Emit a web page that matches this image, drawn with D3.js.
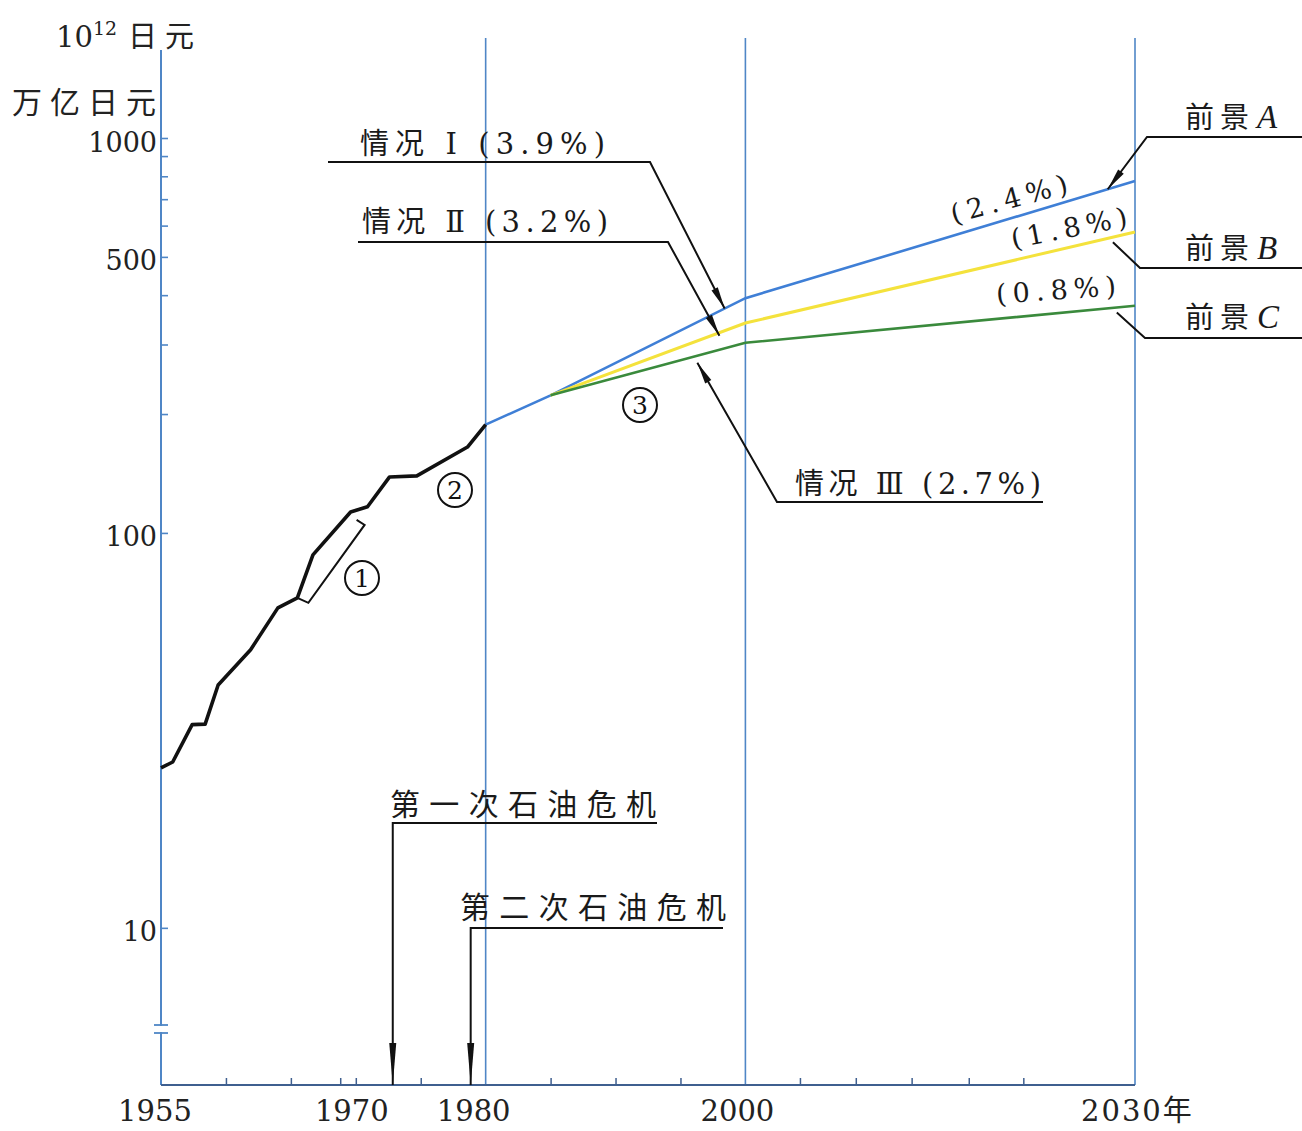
<!DOCTYPE html>
<html><head><meta charset="utf-8">
<script src="https://cdn.jsdelivr.net/npm/d3@7"></script>
<style>
html,body{margin:0;padding:0;background:#fff;}
svg{display:block;}
</style></head>
<body>
<svg id="chart" width="1302" height="1131"></svg>
<script>
// ---------- data ----------
const histYears  = [1955, 1955.9, 1957.4, 1958.4, 1959.4, 1961.9, 1964.0, 1965.5, 1966.7, 1969.6, 1970.9, 1972.6, 1974.7, 1978.6, 1980];
const histValues = [25.4, 26.3, 32.7, 32.8, 41.2, 50.6, 64.6, 68.5, 88, 113, 116.5, 138.6, 139.5, 165, 188];

const caseAYears  = [1980, 1985, 2000, 2030];
const caseAValues = [188, 223, 393, 778];   // 情况Ⅰ 3.9% -> 前景A 2.4%
const caseBYears  = [1985, 2000, 2030];
const caseBValues = [223, 340, 578];        // 情况Ⅱ 3.2% -> 前景B 1.8%
const caseCYears  = [1985, 2000, 2030];
const caseCValues = [223, 303, 376];        // 情况Ⅲ 2.7% -> 前景C 0.8%

const refYears = [1980, 2000, 2030];
const xLabelYears = [1955, 1970, 1980, 2000, 2030];
const xLabelTexts = ["1955", "1970", "1980", "2000", "2030年"];
const xMinorTicks = [1960, 1965, 1968.8, 1970, 1975, 1985, 1990, 1995, 2004.2, 2008.5, 2012.8, 2017.2, 2021.4];
const yTicks = [1000, 900, 800, 700, 600, 500, 400, 300, 200, 100, 10];
const yLabelTicks = [1000, 500, 100, 10];
const oilCrisisYears = [1973, 1979];
const oilCrisisTexts = ["第一次石油危机", "第二次石油危机"];

// ---------- setup ----------
const svg = d3.select("#chart");
const SERIF = "'DejaVu Serif', 'Liberation Serif', serif";
const CJK = "'Noto Sans CJK SC', 'Noto Sans', sans-serif";
const MIX = "'DejaVu Serif', 'Noto Sans CJK SC', serif";
const AXIS_BLUE = "#4f86c6";
const BASE_COL = "#3f5f8f";

const x = d3.scaleLinear().domain([1955, 2030]).range([161, 1135]);
const y = d3.scaleLog().domain([4, 1000]).range([1085, 138]);
const yBottom = y(4);

svg.append("rect").attr("width", 1302).attr("height", 1131).attr("fill", "#fff");

// vertical reference lines
svg.selectAll(".vref").data(refYears).join("line")
  .attr("x1", d => x(d)).attr("x2", d => x(d))
  .attr("y1", 38).attr("y2", yBottom)
  .attr("stroke", AXIS_BLUE).attr("stroke-width", 1.6);

// y axis
const yAxis = d3.axisRight(y).tickValues(yTicks).tickSize(7).tickFormat("");
const gy = svg.append("g").attr("transform", `translate(${x(1955)},0)`).call(yAxis);
gy.select(".domain").remove();
gy.selectAll(".tick line").attr("stroke", AXIS_BLUE).attr("stroke-width", 1.6);
svg.append("line").attr("x1", x(1955)).attr("x2", x(1955)).attr("y1", 50).attr("y2", yBottom)
  .attr("stroke", AXIS_BLUE).attr("stroke-width", 2);
svg.selectAll(".ylab").data(yLabelTicks).join("text")
  .attr("x", 157).attr("y", d => y(d)).attr("dy", "0.5em")
  .attr("text-anchor", "end").attr("font-family", SERIF).attr("font-size", 27)
  .attr("fill", "#222").text(d => d);

// axis break marks
svg.append("rect").attr("x", 154).attr("y", 1026).attr("width", 14).attr("height", 6).attr("fill", "#fff");
[1025, 1033].forEach(v => svg.append("line").attr("x1", 154).attr("x2", 168)
  .attr("y1", v).attr("y2", v).attr("stroke", AXIS_BLUE).attr("stroke-width", 1.8));

// x axis
const xAxis = d3.axisTop(x).tickValues(xMinorTicks).tickSize(7).tickFormat("");
const gx = svg.append("g").attr("transform", `translate(0,${yBottom})`).call(xAxis);
gx.select(".domain").remove();
gx.selectAll(".tick line").attr("stroke", BASE_COL).attr("stroke-width", 1.5);
svg.append("line").attr("x1", x(1955)).attr("x2", x(2030)).attr("y1", yBottom).attr("y2", yBottom)
  .attr("stroke", BASE_COL).attr("stroke-width", 2.2);
const xLabOffset = [-6, -4, -12, -8, 0];
svg.selectAll(".xlab").data(xLabelYears).join("text")
  .attr("x", (d, i) => x(d) + xLabOffset[i]).attr("y", 1121)
  .attr("text-anchor", (d, i) => i === 4 ? "start" : "middle")
  .attr("dx", (d, i) => i === 4 ? -54 : 0)
  .attr("font-family", MIX).attr("font-size", 29).attr("fill", "#222")
  .attr("letter-spacing", (d, i) => i === 4 ? 2 : 0)
  .text((d, i) => xLabelTexts[i]);

// units
const u1 = svg.append("text").attr("x", 56).attr("y", 47).attr("font-family", SERIF).attr("font-size", 29).attr("fill", "#222");
u1.append("tspan").text("10");
u1.append("tspan").attr("font-size", 19).attr("dy", -12).text("12");
svg.append("text").attr("x", 128).attr("y", 47).attr("font-family", CJK).attr("font-size", 29)
  .attr("letter-spacing", 8).attr("fill", "#222").text("日元");
svg.append("text").attr("x", 12).attr("y", 113).attr("font-family", CJK).attr("font-size", 30)
  .attr("letter-spacing", 8).attr("fill", "#222").text("万亿日元");

// ---------- lines ----------
const line = d3.line().x(d => x(d[0])).y(d => y(d[1]));
const zip = (a, b) => a.map((v, i) => [v, b[i]]);

svg.append("path").datum(zip(caseAYears, caseAValues)).attr("d", line)
  .attr("fill", "none").attr("stroke", "#3f7fd6").attr("stroke-width", 2.6);
svg.append("path").datum(zip(caseBYears, caseBValues)).attr("d", line)
  .attr("fill", "none").attr("stroke", "#f4e23c").attr("stroke-width", 3);
svg.append("path").datum(zip(caseCYears, caseCValues)).attr("d", line)
  .attr("fill", "none").attr("stroke", "#3a8a3c").attr("stroke-width", 2.6);
svg.append("path").datum(zip(histYears, histValues)).attr("d", line)
  .attr("fill", "none").attr("stroke", "#111").attr("stroke-width", 3.6)
  .attr("stroke-linejoin", "round");

// ---------- annotation helpers ----------
function onLine(yrs, vals, yr) {
  const pts = yrs.map((v, i) => [x(v), y(vals[i])]);
  const px = x(yr);
  for (let i = 0; i < pts.length - 1; i++) {
    if (px >= pts[i][0] && px <= pts[i + 1][0]) {
      const t = (px - pts[i][0]) / (pts[i + 1][0] - pts[i][0]);
      return [px, pts[i][1] + t * (pts[i + 1][1] - pts[i][1])];
    }
  }
  return pts[pts.length - 1];
}
function arrowHead(tip, from, len, half) {
  const dx = tip[0] - from[0], dy = tip[1] - from[1];
  const L = Math.hypot(dx, dy), ux = dx / L, uy = dy / L;
  const bx = tip[0] - ux * len, by = tip[1] - uy * len;
  svg.append("path")
    .attr("d", `M${tip[0]},${tip[1]}L${bx - uy * half},${by + ux * half}L${bx + uy * half},${by - ux * half}Z`)
    .attr("fill", "#111");
}
function leader(tip, knee, endX, head) {
  svg.append("path").attr("d", `M${endX},${knee[1]}L${knee[0]},${knee[1]}L${tip[0]},${tip[1]}`)
    .attr("fill", "none").attr("stroke", "#111").attr("stroke-width", 2);
  if (head) arrowHead(tip, knee, 22, 3.5);
}
function label(txt, xx, yy, len, size) {
  svg.append("text").attr("x", xx).attr("y", yy).attr("font-family", MIX)
    .attr("font-size", size || 29).attr("fill", "#1a1a1a")
    .attr("textLength", len).attr("lengthAdjust", "spacing").text(txt);
}

// scenario leaders
const tI = onLine(caseAYears, caseAValues, 1998.4);
leader(tI, [650, 162], 328, true);
label("情况 Ⅰ (3.9%)", 360, 154, 245);

const tII = onLine(caseBYears, caseBValues, 1998.0); tII[1] += 3;
leader(tII, [668, 242], 358, true);
label("情况 Ⅱ (3.2%)", 362, 232, 246);

const tIII = onLine(caseCYears, caseCValues, 1996.3); tIII[1] += 7;
leader(tIII, [777, 502], 1043, true);
label("情况 Ⅲ (2.7%)", 795, 494, 246);

const tA = onLine(caseAYears, caseAValues, 2027.9);
leader(tA, [1147, 137], 1302, true);
const tB = onLine(caseBYears, caseBValues, 2028.3); tB[1] += 5;
leader(tB, [1140, 268], 1302, false);
const tC = onLine(caseCYears, caseCValues, 2028.6); tC[1] += 5;
leader(tC, [1145, 338], 1302, false);

function prospect(txt, letter, yy) {
  const t = svg.append("text").attr("x", 1185).attr("y", yy).attr("fill", "#1a1a1a");
  t.append("tspan").attr("font-family", CJK).attr("font-size", 29).attr("letter-spacing", 6).text(txt);
  t.append("tspan").attr("font-family", "'Liberation Serif', serif").attr("font-style", "italic")
    .attr("font-size", 33).attr("dx", 2).text(letter);
}
prospect("前景", "A", 128);
prospect("前景", "B", 259);
prospect("前景", "C", 328);

// growth-rate labels along the lines
function rateLabel(txt, cx, cy, ang, len) {
  svg.append("text").attr("transform", `translate(${cx},${cy}) rotate(${ang})`)
    .attr("text-anchor", "middle").attr("dy", "0.35em")
    .attr("font-family", SERIF).attr("font-size", 27).attr("fill", "#1a1a1a")
    .attr("textLength", len).attr("lengthAdjust", "spacing").text(txt);
}
rateLabel("(2.4%)", 1009, 199, -15, 120);
rateLabel("(1.8%)", 1069, 228, -11, 118);
rateLabel("(0.8%)", 1056, 290, -4, 120);

// circled numbers
const circ = [["1", 362, 578], ["2", 455, 490], ["3", 640, 405]];
circ.forEach(([t, cx, cy]) => {
  svg.append("circle").attr("cx", cx).attr("cy", cy).attr("r", 17)
    .attr("fill", "none").attr("stroke", "#111").attr("stroke-width", 2);
  svg.append("text").attr("x", cx).attr("y", cy).attr("dy", "0.36em").attr("text-anchor", "middle")
    .attr("font-family", SERIF).attr("font-size", 25).attr("fill", "#111").text(t);
});

// bracket for ①
const b0 = [x(histYears[7]), y(histValues[7])];
const b1 = [x(histYears[9]), y(histValues[9])];
svg.append("path")
  .attr("d", `M${b0[0]},${b0[1]}L${b0[0] + 11},${b0[1] + 5}L${b1[0] + 14},${b1[1] + 13}L${b1[0] + 6},${b1[1] + 8}`)
  .attr("fill", "none").attr("stroke", "#111").attr("stroke-width", 2);

// oil crises
const oilLayout = [{ ly: 823, endX: 657, tx: 390, ty: 815 }, { ly: 928, endX: 723, tx: 460, ty: 918 }];
oilCrisisYears.forEach((yr, i) => {
  const L = oilLayout[i];
  const px = x(yr) - 2;
  svg.append("path").attr("d", `M${L.endX},${L.ly}L${px},${L.ly}L${px},${yBottom}`)
    .attr("fill", "none").attr("stroke", "#111").attr("stroke-width", 2);
  arrowHead([px, yBottom], [px, L.ly], 42, 3.5);
  label(oilCrisisTexts[i], L.tx, L.ty, 266, 30);
});
</script>
</body></html>
